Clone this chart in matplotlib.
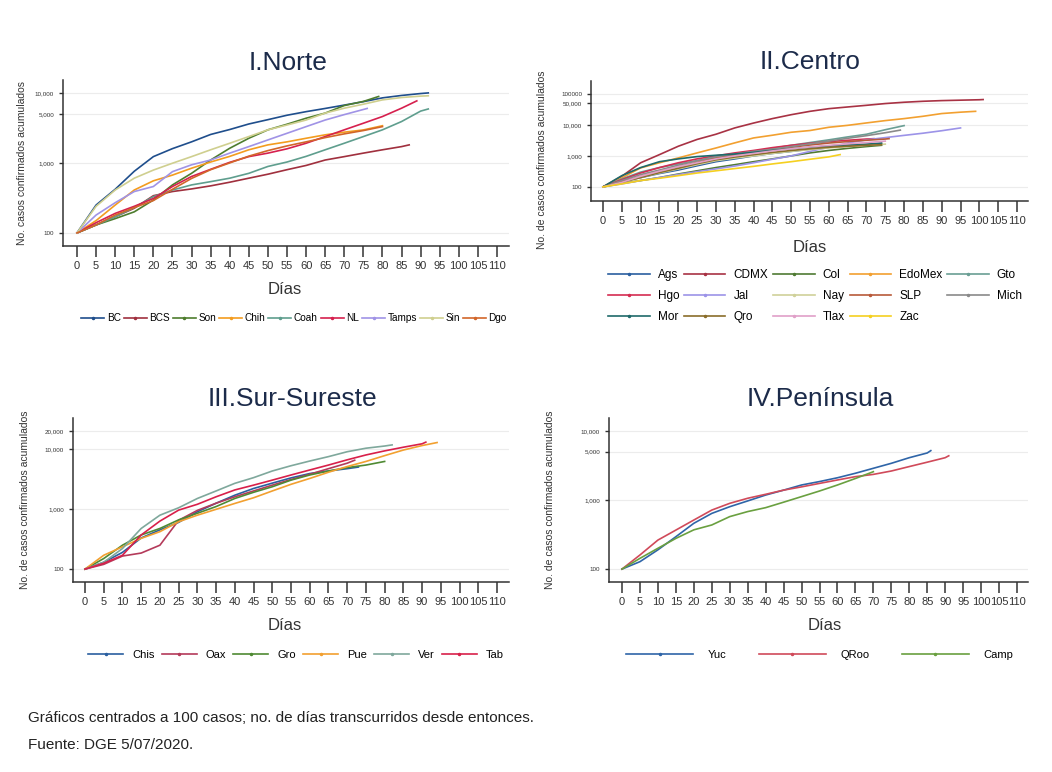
import matplotlib
matplotlib.use("Agg")
import matplotlib.pyplot as plt
from matplotlib.lines import Line2D
from matplotlib.ticker import NullLocator

plt.rcParams['font.family'] = ['Liberation Sans', 'DejaVu Sans']

# casos acumulados leidos cada 5 dias; el ultimo valor es el del dia final
# I. Norte
norte_estados = ['BC', 'BCS', 'Son', 'Chih', 'Coah', 'NL', 'Tamps', 'Sin', 'Dgo']
norte_fin = [92, 87, 79, 80, 92, 89, 76, 92, 80]
bc = [100, 250, 420, 760, 1230, 1600, 2000, 2550, 3000, 3600, 4150, 4800, 5400, 6000, 6700, 7500, 8500, 9200, 9800, 10000]
bcs = [100, 130, 170, 225, 340, 390, 425, 470, 530, 605, 690, 800, 920, 1100, 1230, 1380, 1540, 1710, 1810]
son = [100, 130, 160, 200, 295, 485, 710, 1100, 1620, 2250, 2970, 3570, 4350, 5150, 6600, 7560, 8900]
chih = [100, 150, 250, 410, 555, 670, 840, 1030, 1240, 1540, 1810, 2000, 2250, 2520, 2750, 2960, 3400]
coah = [100, 130, 170, 230, 330, 410, 485, 540, 605, 710, 890, 1030, 1240, 1540, 1910, 2380, 2970, 3900, 5500, 5900]
nl = [100, 140, 190, 240, 310, 460, 640, 810, 1020, 1230, 1380, 1590, 1910, 2380, 2970, 3690, 4600, 6050, 7700]
tamps = [100, 180, 270, 390, 460, 750, 940, 1100, 1380, 1710, 2130, 2650, 3300, 4100, 4900, 5800, 6000]
sin = [100, 240, 410, 605, 790, 990, 1230, 1540, 1910, 2380, 2970, 3480, 4100, 5150, 6050, 6900, 7950, 8600, 9000, 9100]
dgo = [100, 130, 180, 230, 290, 420, 600, 800, 1000, 1250, 1500, 1750, 2000, 2300, 2600, 2900, 3300]
norte_colores = ['#1f4e8c', '#a0303e', '#4e7d2e', '#f39c1f', '#5f9e8e', '#d6204e', '#a093e6', '#cfcf8f', '#d2662a']

# II. Centro
centro_estados = ['Ags', 'CDMX', 'Col', 'EdoMex', 'Gto', 'Hgo', 'Jal', 'Nay', 'SLP', 'Mich', 'Mor', 'Qro', 'Tlax', 'Zac']
centro_fin = [74, 101, 74, 99, 80, 72, 95, 75, 76, 79, 74, 74, 75, 63]
ags = [100, 150, 200, 270, 350, 480, 650, 800, 1000, 1200, 1400, 1650, 1900, 2100, 2300, 2500]
cdmx = [100, 220, 600, 1100, 2050, 3400, 5000, 8000, 11500, 16000, 21400, 27500, 33500, 38000, 43000, 49000, 54000, 58000, 61000, 63000, 65000, 66000]
col = [100, 130, 160, 200, 260, 330, 420, 520, 650, 800, 1000, 1250, 1500, 1750, 2000, 2200]
edomex = [100, 195, 410, 600, 860, 1250, 1800, 2630, 3800, 4650, 5800, 6600, 8400, 9700, 11600, 13800, 16000, 19000, 23300, 25800, 27500]
gto = [100, 180, 300, 420, 550, 700, 900, 1100, 1400, 1750, 2200, 2700, 3300, 4100, 5000, 7000, 9500]
hgo = [100, 170, 280, 420, 600, 800, 1000, 1250, 1500, 1850, 2200, 2550, 2900, 3200, 3500, 3600]
jal = [100, 125, 160, 200, 250, 310, 380, 470, 600, 780, 1000, 1400, 1900, 2600, 3300, 3900, 4600, 5400, 6500, 8000]
nay = [100, 140, 200, 280, 380, 520, 700, 850, 1000, 1200, 1400, 1600, 1800, 2000, 2200, 2400]
slp = [100, 150, 220, 320, 450, 620, 850, 1050, 1300, 1600, 1900, 2250, 2600, 2900, 3200, 3500, 3600]
mich = [100, 160, 250, 350, 500, 700, 950, 1150, 1400, 1650, 2000, 2450, 3000, 3700, 4500, 5600, 6800]
mor = [100, 230, 420, 650, 800, 950, 1050, 1150, 1300, 1500, 1700, 1900, 2100, 2250, 2400, 2600]
qro = [100, 140, 200, 290, 400, 560, 750, 920, 1100, 1300, 1500, 1700, 1900, 2050, 2200, 2300]
tlax = [100, 140, 220, 320, 450, 600, 800, 1000, 1200, 1450, 1700, 1950, 2200, 2450, 2700, 3000]
zac = [100, 125, 160, 190, 230, 280, 330, 390, 460, 550, 650, 780, 930, 1100]
centro_colores = ['#2a5fa0', '#a83244', '#4f7a33', '#f2a030', '#6a9e94', '#d42c52', '#9c93e8',
                  '#cfd19a', '#b85a3a', '#8a8a8a', '#1f6a6a', '#8a6d2a', '#e0a0c8', '#f5d020']

# III. Sur-Sureste
sur_estados = ['Chis', 'Oax', 'Gro', 'Pue', 'Ver', 'Tab']
sur_fin = [73, 72, 80, 94, 82, 91]
chis = [100, 130, 190, 330, 450, 600, 900, 1250, 1700, 2200, 2700, 3300, 3900, 4300, 4700, 5000]
oax = [100, 120, 165, 185, 250, 650, 950, 1250, 1600, 2000, 2500, 3100, 3800, 4700, 5800, 6500]
gro = [100, 150, 250, 370, 475, 660, 850, 1100, 1500, 1900, 2350, 3030, 3690, 4300, 4900, 5400, 6200]
pue = [100, 170, 235, 325, 420, 615, 790, 990, 1240, 1540, 2000, 2580, 3230, 4100, 5100, 6200, 7750, 9600, 11400, 12800]
ver = [100, 130, 220, 475, 790, 1050, 1500, 2000, 2680, 3330, 4300, 5260, 6300, 7460, 9000, 10300, 11200, 11700]
tab = [100, 125, 170, 370, 630, 960, 1200, 1600, 2080, 2500, 3030, 3690, 4470, 5400, 6600, 7950, 9300, 10700, 12200, 13000]
sur_colores = ['#2a5fa0', '#b43a5a', '#4f8a33', '#f2a030', '#7fa89c', '#d8204a']

# IV. Peninsula
pen_estados = ['Yuc', 'QRoo', 'Camp']
pen_fin = [86, 91, 70]
yuc = [100, 128, 190, 294, 460, 640, 800, 970, 1180, 1390, 1650, 1850, 2100, 2440, 2880, 3400, 4100, 4800, 5190]
qroo = [100, 160, 263, 367, 513, 715, 895, 1060, 1210, 1390, 1550, 1740, 1950, 2180, 2350, 2630, 3050, 3530, 4100, 4370]
camp = [100, 143, 200, 278, 370, 435, 575, 680, 775, 930, 1120, 1350, 1650, 2050, 2570]
pen_colores = ['#2f65a8', '#d04a5a', '#6aa040']

W, H = 1052, 772
fig = plt.figure(figsize=(W / 100, H / 100), dpi=100)


def px(x, y):
    return x / W, 1 - y / H


def dias(vals, fin):
    return list(range(0, 5 * (len(vals) - 1), 5)) + [fin]


def panel(box, x0, x110, ylim, yt, ytl, series, fines, colores, estados,
          titulo, tpos, dpos, ylab, ypos, ley):
    l, t, r, b = box
    ax = fig.add_axes([l / W, 1 - b / H, (r - l) / W, (b - t) / H])
    for v, f, c in zip(series, fines, colores):
        ax.plot(dias(v, f), v, color=c, lw=1.2)
    per = (x110 - x0) / 110
    ax.set_xlim((l - x0) / per, (r - x0) / per)
    ax.set_yscale('log')
    ax.set_ylim(*ylim)
    ax.set_yticks(yt)
    ax.set_yticklabels(ytl)
    ax.yaxis.set_minor_locator(NullLocator())
    ax.set_xticks(range(0, 111, 5))
    ax.set_xticklabels([str(d) for d in range(0, 111, 5)])
    ax.tick_params(axis='y', labelsize=4.5, length=3, width=1, colors='#333333')
    ax.tick_params(axis='x', labelsize=8, length=8, width=1.1, pad=3, colors='#333333')
    ax.yaxis.grid(True, color='#ececec', lw=0.8)
    ax.set_axisbelow(True)
    for s in ['top', 'right']:
        ax.spines[s].set_visible(False)
    for s in ['left', 'bottom']:
        ax.spines[s].set_color('#333333')
        ax.spines[s].set_linewidth(1.1)

    fig.text(*px(*tpos), titulo, fontsize=19, color='#1c2b4a', ha='center', va='center')
    fig.text(*px(*dpos), 'Días', fontsize=12, color='#333333', ha='center', va='center')
    fig.text(*px(*ypos), ylab, fontsize=7.5, color='#333333', rotation=90, ha='center', va='center')

    handles = [Line2D([], [], color=c, lw=1.2, marker='.', ms=3) for c in colores]
    orden = ley.pop('orden', list(range(len(estados))))
    lcx, lcy = ley.pop('centro')
    ax.legend([handles[i] for i in orden], [estados[i] for i in orden],
              loc='center', bbox_to_anchor=px(lcx, lcy), bbox_transform=fig.transFigure,
              frameon=False, borderpad=0, **ley)
    return ax


panel((63, 80, 509, 246), 77, 497, (65, 15300), [100, 1000, 5000, 10000],
      ['100', '1,000', '5,000', '10,000'],
      [bc, bcs, son, chih, coah, nl, tamps, sin, dgo], norte_fin, norte_colores, norte_estados,
      'I.Norte', (288, 63), (285, 290), 'No. casos confirmados acumulados', (22, 163),
      dict(centro=(294, 318), ncol=9, fontsize=7.2, handlelength=2.3,
           handletextpad=0.25, columnspacing=0.3))

panel((591, 81, 1028, 201), 603, 1017, (35, 262000), [100, 1000, 10000, 50000, 100000],
      ['100', '1,000', '10,000', '50,000', '100000'],
      [ags, cdmx, col, edomex, gto, hgo, jal, nay, slp, mich, mor, qro, tlax, zac],
      centro_fin, centro_colores, centro_estados,
      'II.Centro', (810, 62), (810, 247), 'No. de casos confirmados acumulados', (542, 160),
      dict(centro=(815, 296), ncol=5, fontsize=8.5, handlelength=3.5,
           handletextpad=0.7, columnspacing=0.4, labelspacing=0.75,
           orden=[0, 5, 10, 1, 6, 11, 2, 7, 12, 3, 8, 13, 4, 9]))

panel((73, 418, 509, 582), 85, 497, (61, 32800), [100, 1000, 10000, 20000],
      ['100', '1,000', '10,000', '20,000'],
      [chis, oax, gro, pue, ver, tab], sur_fin, sur_colores, sur_estados,
      'III.Sur-Sureste', (292, 399), (285, 626), 'No. de casos confirmados acumulados', (25, 500),
      dict(centro=(296, 655), ncol=6, fontsize=8, handlelength=3.15,
           handletextpad=0.8, columnspacing=0.65))

panel((609, 418, 1028, 582), 622, 1017, (65, 15400), [100, 1000, 5000, 10000],
      ['100', '1,000', '5,000', '10,000'],
      [yuc, qroo, camp], pen_fin, pen_colores, pen_estados,
      'IV.Península', (820, 399), (825, 626), 'No. de casos confirmados acumulados', (550, 500),
      dict(centro=(820, 655), ncol=3, fontsize=8, handlelength=6,
           handletextpad=1.35, columnspacing=2.9))

fig.text(*px(28, 718), 'Gráficos centrados a 100 casos; no. de días transcurridos desde entonces.',
         fontsize=11, color='#222222', ha='left', va='center')
fig.text(*px(28, 745), 'Fuente: DGE 5/07/2020.', fontsize=11, color='#222222', ha='left', va='center')

fig.savefig('out.png', dpi=100, facecolor='white')
